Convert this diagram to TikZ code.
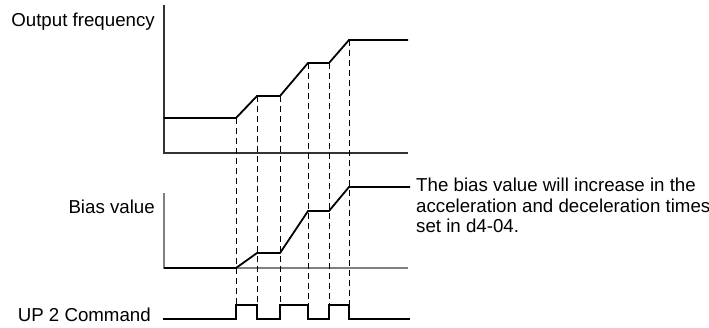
\documentclass[tikz,border=0pt]{standalone}
\usepackage{fontspec}
\setmainfont{Liberation Sans}
\usepackage{xcolor}
\definecolor{AxisGray}{HTML}{808080}
\usetikzlibrary{positioning}

\begin{document}
\begin{tikzpicture}[
    x=1pt, y=-1pt,
    lab/.style={
        font=\fontsize{18.7}{20.5}\selectfont,
        inner sep=0pt
    },
    axis/.style={line width=1.3pt, draw=black!80},
    baxis/.style={line width=1.3pt, draw=AxisGray},
    curve/.style={line width=1.8pt, line join=miter},
    guide/.style={line width=1pt, dash pattern=on 6pt off 4pt}
]

\useasboundingbox (0,0) rectangle (709,328);

% ---------------------------------------------------------
% Etichette
% ---------------------------------------------------------

\node[lab, anchor=east] (outlab) at (155,22) {Output frequency};

\node[lab, anchor=east] (biaslab) at (155,207) {Bias value};

\node[lab, anchor=east] (uplab) at (151,315) {UP 2 Command};

\node[lab, anchor=north west, align=left] (note) at (416,178)
{The bias value will increase in the\\
acceleration and deceleration times\\
set in d4-04.};

% ---------------------------------------------------------
% Assi
% ---------------------------------------------------------

\draw[axis] (164,5) -- (164,153) -- (408,153);

\draw[baxis] (164,193) -- (164,268) -- (408,268);

% ---------------------------------------------------------
% Linee guida tratteggiate
% ---------------------------------------------------------

\foreach \x/\y in {236/118, 257/96, 280/96, 308/63, 329/63, 349/40}
    \draw[guide] (\x,\y) -- (\x,305);

% ---------------------------------------------------------
% Curve
% ---------------------------------------------------------

\draw[curve]
(164,118) -- (236,118) -- (257,96) -- (280,96)
-- (308,63) -- (329,63) -- (349,40) -- (408,40);

\draw[curve]
(164,268) -- (236,268) -- (257,253) -- (280,253)
-- (308,211) -- (329,211) -- (349,187) -- (410,187);

\draw[curve]
(163,319) -- (236,319) -- (236,305) -- (257,305) -- (257,319)
-- (280,319) -- (280,305) -- (308,305) -- (308,319)
-- (329,319) -- (329,305) -- (349,305) -- (349,319) -- (410,319);

\end{tikzpicture}
\end{document}
